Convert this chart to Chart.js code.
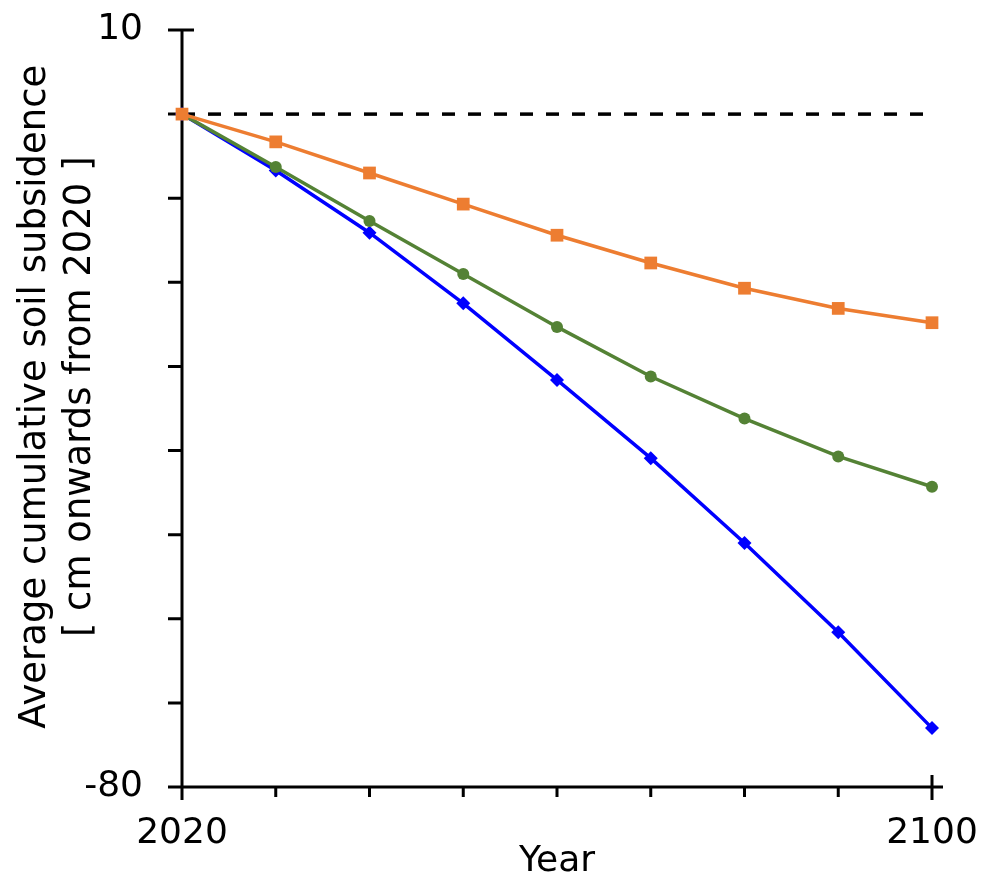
<!DOCTYPE html>
<html>
<head>
<meta charset="utf-8">
<script src="https://cdn.jsdelivr.net/npm/chart.js@4"></script>
<style>
  html, body { margin: 0; padding: 0; background: #fff; }
  #wrap { width: 987px; height: 880px; }
</style>
</head>
<body>
<div id="wrap"><canvas id="subsidence" width="987" height="880"></canvas></div>
<script>
// 年（10年ごと）
const years = [2020, 2030, 2040, 2050, 2060, 2070, 2080, 2090, 2100];
// 各シナリオの累積沈下量 [cm]
const orangeValues = [0, -3.3, -7.0, -10.7, -14.4, -17.7, -20.7, -23.1, -24.8];
const greenValues = [0, -6.3, -12.7, -19.0, -25.3, -31.2, -36.2, -40.7, -44.3];
const blueValues = [0, -6.7, -14.1, -22.5, -31.6, -40.9, -51.0, -61.6, -73.0];
// 基準線（0cm）
const baseYears = [2020, 2100];
const baseValues = [0, 0];
// 軸の目盛ラベル
const yTickLabels = [10, -80];
const xTickLabels = [2020, 2100];

const FONT = 'DejaVu Sans';

function toPoints(xs, ys) {
  return xs.map((x, i) => ({ x: x, y: ys[i] }));
}

// 軸線と目盛を自前で描画（マーカーの下になるようにデータより先に描く）
const axisLines = {
  id: 'axisLines',
  beforeDatasetsDraw(chart) {
    const ctx = chart.ctx;
    const x = chart.scales.x;
    const y = chart.scales.y;
    const left = x.getPixelForValue(2020);
    const right = x.getPixelForValue(2100);
    const top = y.getPixelForValue(10);
    const bottom = y.getPixelForValue(-80);
    ctx.save();
    ctx.strokeStyle = '#000';
    ctx.lineWidth = 3;
    ctx.lineCap = 'butt';
    ctx.beginPath();
    // 縦軸
    ctx.moveTo(left, top);
    ctx.lineTo(left, bottom);
    // 横軸
    ctx.moveTo(left - 14, bottom);
    ctx.lineTo(right + 11, bottom);
    // 縦軸の目盛（一番上だけ両側）
    y.ticks.forEach(function (t) {
      const py = y.getPixelForValue(t.value);
      ctx.moveTo(left - 14, py);
      ctx.lineTo(t.value === 10 ? left + 12 : left, py);
    });
    // 横軸の目盛（両端だけ両側）
    x.ticks.forEach(function (t) {
      const px = x.getPixelForValue(t.value);
      if (xTickLabels.includes(t.value)) {
        ctx.moveTo(px, bottom - 12);
        ctx.lineTo(px, bottom + 13);
      } else {
        ctx.moveTo(px, bottom);
        ctx.lineTo(px, bottom + 10);
      }
    });
    ctx.stroke();
    ctx.restore();
  },
};

new Chart(document.getElementById('subsidence'), {
  type: 'line',
  data: {
    datasets: [
      {
        label: 'orange',
        data: toPoints(years, orangeValues),
        borderColor: '#ED7D31',
        backgroundColor: '#ED7D31',
        borderWidth: 3.5,
        pointStyle: 'rect',
        pointRadius: 9,
        pointBorderWidth: 0,
        clip: false,
      },
      {
        label: 'green',
        data: toPoints(years, greenValues),
        borderColor: '#548235',
        backgroundColor: '#548235',
        borderWidth: 3.5,
        pointStyle: 'circle',
        pointRadius: 6,
        pointBorderWidth: 0,
        clip: false,
      },
      {
        label: 'blue',
        data: toPoints(years, blueValues),
        borderColor: '#0000FF',
        backgroundColor: '#0000FF',
        borderWidth: 3.5,
        pointStyle: 'rectRot',
        pointRadius: 7,
        pointBorderWidth: 0,
        clip: false,
      },
      {
        label: 'base',
        data: toPoints(baseYears, baseValues),
        borderColor: '#000',
        borderWidth: 3.5,
        borderDash: [13, 13],
        pointRadius: 0,
      },
    ],
  },
  options: {
    responsive: false,
    animation: false,
    layout: { padding: { top: 30, right: 55, left: 0, bottom: 0 } },
    plugins: {
      legend: { display: false },
      tooltip: { enabled: false },
    },
    scales: {
      x: {
        type: 'linear',
        min: 2020,
        max: 2100,
        // 目盛線は自前で描くので非表示、ラベル位置だけtickLengthで調整
        grid: { display: false, drawTicks: true, tickLength: 25 },
        border: { display: false },
        ticks: {
          stepSize: 10,
          padding: 0,
          color: '#000',
          maxRotation: 0,
          autoSkip: false,
          font: { family: FONT, size: 36 },
          callback: (v) => (xTickLabels.includes(v) ? String(v) : ''),
        },
        title: {
          display: true,
          text: 'Year',
          color: '#000',
          font: { family: FONT, size: 36, lineHeight: 1.0 },
          padding: 0,
        },
        afterFit(scale) {
          scale.height = 93;
        },
      },
      y: {
        min: -80,
        max: 10,
        grid: { display: false, drawTicks: true, tickLength: 39 },
        border: { display: false },
        ticks: {
          stepSize: 10,
          padding: 0,
          color: '#000',
          autoSkip: false,
          font: { family: FONT, size: 36 },
          callback: (v) => (yTickLabels.includes(v) ? String(v) : ''),
        },
        title: {
          display: true,
          // 先頭の空白で少し上寄せ
          text: ['  Average cumulative soil subsidence', '  [ cm onwards from 2020 ]'],
          color: '#000',
          font: { family: FONT, size: 37, lineHeight: 1.22 },
          padding: { top: 13, bottom: 0 },
        },
        afterFit(scale) {
          scale.width = 182;
        },
      },
    },
  },
  plugins: [axisLines],
});
</script>
</body>
</html>
